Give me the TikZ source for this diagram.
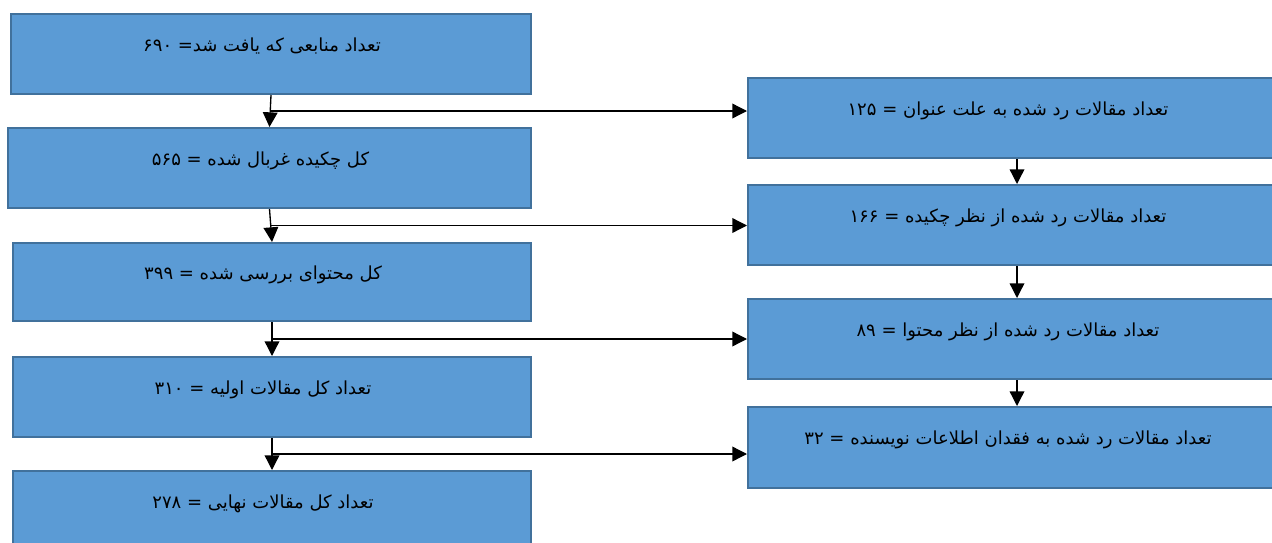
\documentclass[tikz,border=0pt]{standalone}
\usepackage{fontspec}
\newfontfamily\arabicfont[Script=Arabic]{DejaVu Sans}
\TeXXeTstate=1
\usetikzlibrary{arrows.meta,calc}
\definecolor{boxfill}{HTML}{5B9BD5}
\definecolor{boxline}{HTML}{41719C}
\newcommand\fatext[1]{\hbox{\arabicfont\beginR #1\endR\kern13.5pt}}
\tikzset{
  flowbox/.style={draw=boxline, fill=boxfill, line width=1.5pt, anchor=north west,
    inner sep=0pt, font=\fontsize{13.5pt}{16pt}\selectfont, text=black,
    text height=7pt, text depth=11pt},
  arr/.style={line width=1pt, -{Triangle[length=11pt,width=11pt]}}
}
\begin{document}
\begin{tikzpicture}[x=0.75pt,y=-0.75pt]
\useasboundingbox (0,0) rectangle (1272,543);
\clip (0,0) rectangle (1272,543);
% left column
\node[flowbox, minimum width=520*0.75pt, minimum height=80*0.75pt] (L1) at (10,13) {\fatext{تعداد منابعی که یافت شد\kern0pt= ۶۹۰}};
\node[flowbox, minimum width=523*0.75pt, minimum height=80*0.75pt] (L2) at (7,127) {\fatext{کل چکیده غربال شده = ۵۶۵}};
\node[flowbox, minimum width=518*0.75pt, minimum height=78*0.75pt] (L3) at (12,242) {\fatext{کل محتوای بررسی شده = ۳۹۹}};
\node[flowbox, minimum width=518*0.75pt, minimum height=80*0.75pt] (L4) at (12,356) {\fatext{تعداد کل مقالات اولیه = ۳۱۰}};
\node[flowbox, minimum width=518*0.75pt, minimum height=80*0.75pt] (L5) at (12,470) {\fatext{تعداد کل مقالات نهایی = ۲۷۸}};
% right column
\node[flowbox, minimum width=538*0.75pt, minimum height=80*0.75pt] (R1) at (747,77) {\fatext{تعداد مقالات رد شده به علت عنوان = ۱۲۵}};
\node[flowbox, minimum width=538*0.75pt, minimum height=80*0.75pt] (R2) at (747,184) {\fatext{تعداد مقالات رد شده از نظر چکیده = ۱۶۶}};
\node[flowbox, minimum width=538*0.75pt, minimum height=80*0.75pt] (R3) at (747,298) {\fatext{تعداد مقالات رد شده از نظر محتوا = ۸۹}};
\node[flowbox, minimum width=538*0.75pt, minimum height=81*0.75pt] (R4) at (747,406) {\fatext{تعداد مقالات رد شده به فقدان اطلاعات نویسنده = ۳۲}};
% vertical connectors
\draw[arr] (L1.south) -- (L2.north);
\draw[arr] (L2.south) -- (L3.north);
\draw[arr] (L3.south) -- (L4.north);
\draw[arr] (L4.south) -- (L5.north);
\draw[arr] (R1.south) -- (R2.north);
\draw[arr] (R2.south) -- (R3.north);
\draw[arr] (R3.south) -- (R4.north);
% branch points
\coordinate (h1) at ($(L1.south)!0.5!(L2.north)$);
\coordinate (h2) at ($(L2.south)!0.5!(L3.north)$);
\coordinate (h3) at ($(L3.south)!0.5!(L4.north)$);
\coordinate (h4) at ($(L4.south)!0.5!(L5.north)$);
\draw[arr] (h1) -- (h1 -| R1.west);
\draw[arr] (h2) -- (h2 -| R2.west);
\draw[arr] (h3) -- (h3 -| R3.west);
\draw[arr] (h4) -- (h4 -| R4.west);
\end{tikzpicture}
\end{document}
